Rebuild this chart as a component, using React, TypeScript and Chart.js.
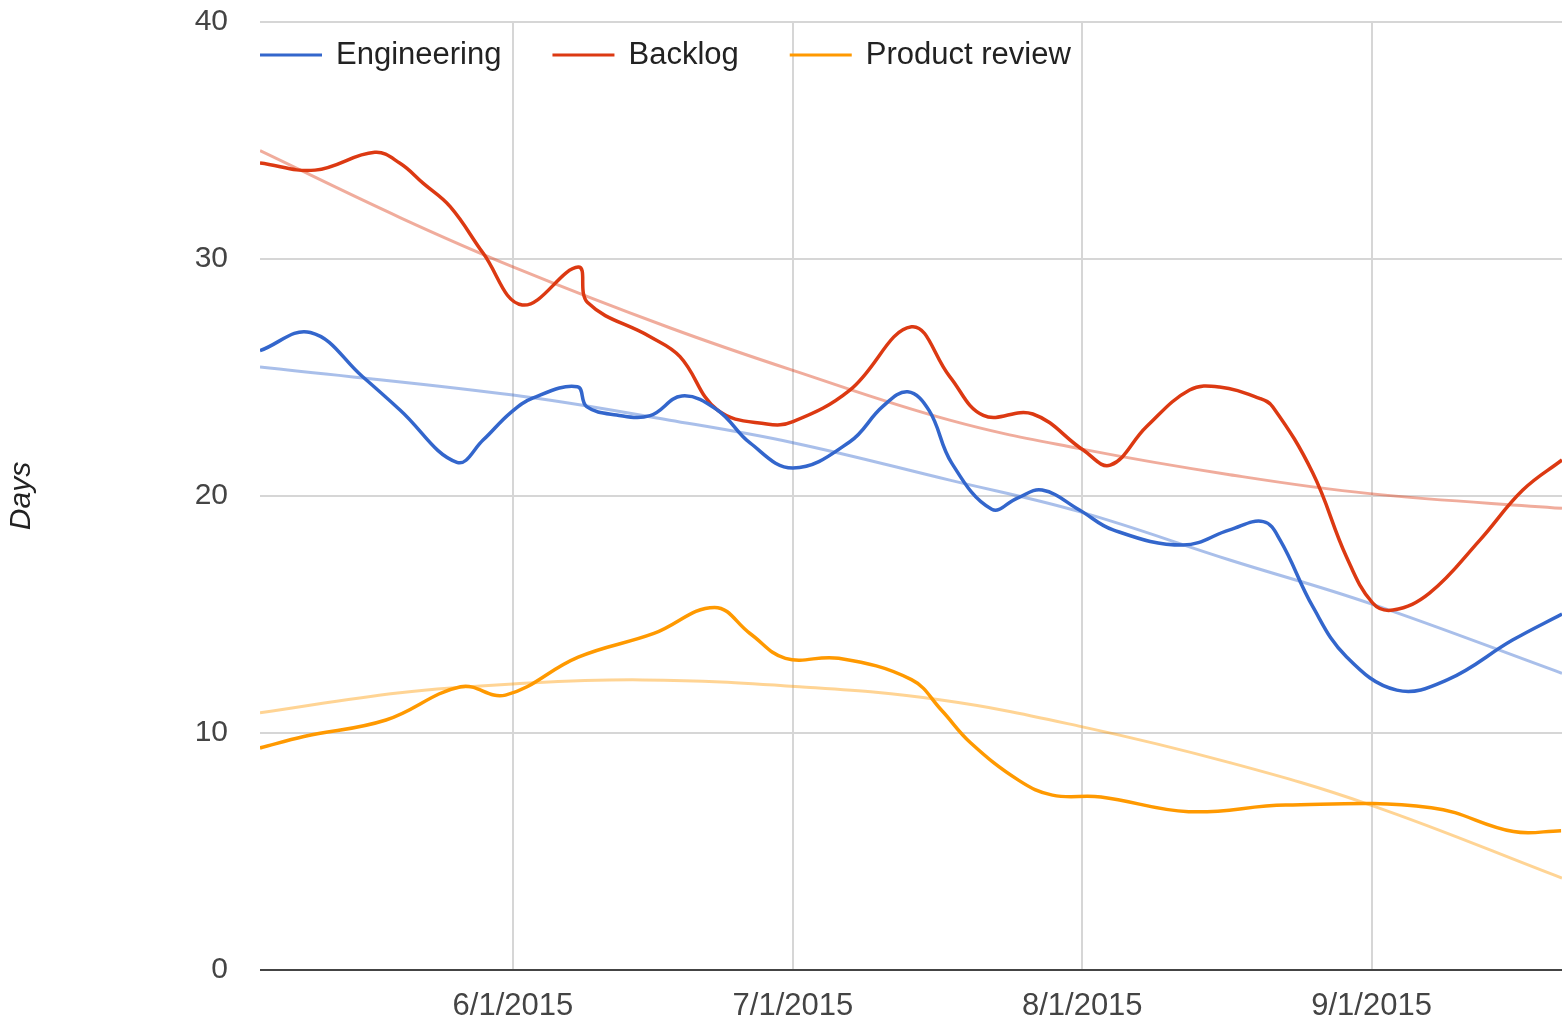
import React, { useEffect, useRef } from "react";
import { Chart, registerables } from "chart.js";

Chart.register(...registerables);

// x values are days counted from 6/1/2015 (negative = May 2015)
const X_MIN = -27.1;
const X_MAX = 112.4;

const tickDays = [0, 30, 61, 92];
const tickLabels = ["6/1/2015", "7/1/2015", "8/1/2015", "9/1/2015"];
const yTicks = [0, 10, 20, 30, 40];

const seriesNames = ["Engineering", "Backlog", "Product review"];
const seriesColors = ["#3366cc", "#dc3912", "#ff9900"];
const trendColors = ["rgba(51,102,204,0.42)", "rgba(220,57,18,0.42)", "rgba(255,153,0,0.42)"];

const engineeringDays = [-27.1, -21.7, -16.1, -12.1, -6.0, -3.2, -0.3, 2.1, 6.9, 7.9, 11.1, 14.7, 18.1, 21.9, 25.4, 30.0, 36.1, 39.6, 42.3, 44.6, 47.0, 51.3, 54.0, 56.7, 60.7, 64.3, 71.8, 76.8, 80.4, 82.2, 85.7, 89.3, 94.7, 100.1, 107.1, 112.4];
const engineeringValues = [26.13, 26.9, 25.03, 23.63, 21.42, 22.36, 23.5, 24.13, 24.61, 23.77, 23.42, 23.39, 24.22, 23.63, 22.24, 21.18, 22.29, 23.77, 24.4, 23.6, 21.4, 19.44, 19.9, 20.25, 19.41, 18.57, 17.93, 18.57, 18.92, 18.14, 15.33, 13.22, 11.81, 12.24, 13.92, 15.02];

const backlogDays = [-27.1, -21.2, -14.8, -12.1, -9.6, -6.7, -3.2, 1.0, 7.0, 8.0, 14.7, 17.9, 21.9, 27.2, 30.0, 36.1, 42.7, 46.8, 50.4, 55.7, 61.1, 64.0, 67.9, 72.5, 75.7, 80.0, 81.4, 85.7, 89.3, 92.1, 94.3, 98.2, 103.6, 108.2, 112.4];
const backlogValues = [34.05, 33.75, 34.5, 34.04, 33.19, 32.2, 30.25, 28.06, 29.66, 28.16, 26.72, 25.88, 23.63, 23.04, 23.14, 24.47, 27.14, 25.04, 23.4, 23.46, 21.94, 21.3, 22.93, 24.47, 24.6, 24.12, 23.77, 20.97, 17.44, 15.49, 15.19, 15.9, 18.14, 20.25, 21.52];

const reviewDays = [-27.1, -22.4, -13.6, -5.6, -0.8, 7.0, 15.1, 21.6, 25.4, 29.2, 34.9, 42.7, 45.9, 49.0, 54.2, 57.8, 63.0, 72.4, 82.8, 98.4, 107.2, 112.3];
const reviewValues = [9.37, 9.85, 10.55, 11.95, 11.6, 13.2, 14.2, 15.3, 14.2, 13.15, 13.15, 12.25, 10.97, 9.6, 8.0, 7.38, 7.3, 6.68, 6.96, 6.85, 5.84, 5.88];

const engineeringTrendDays = [-27.1, 0, 16.8, 30, 46.8, 60.7, 76.8, 91.8, 112.4];
const engineeringTrendValues = [25.44, 24.26, 23.2, 22.25, 20.67, 19.34, 17.3, 15.47, 12.52];

const backlogTrendDays = [-27.1, -12.1, 0, 16.8, 30, 46.8, 60.7, 76.8, 91.8, 112.4];
const backlogTrendValues = [34.57, 31.75, 29.67, 27.1, 25.3, 23.2, 22.0, 20.9, 20.1, 19.48];

const reviewTrendDays = [-27.1, -12.1, 0, 13.9, 30.7, 45.7, 60.9, 76.8, 91.9, 112.4];
const reviewTrendValues = [10.85, 11.7, 12.07, 12.24, 11.95, 11.4, 10.27, 8.75, 6.96, 3.88];

const FONT = '"Liberation Sans", Arial, Helvetica, sans-serif';

function pts(xs: number[], ys: number[]) {
  return xs.map((x, i) => ({ x, y: ys[i] }));
}

const legendPlugin = {
  id: "insideLegend",
  afterDraw(chart: any) {
    const ctx = chart.ctx as CanvasRenderingContext2D;
    const y = 55;
    let x = chart.chartArea.left;
    ctx.save();
    ctx.font = `31px ${FONT}`;
    ctx.textBaseline = "middle";
    ctx.textAlign = "left";
    seriesNames.forEach((name, i) => {
      ctx.strokeStyle = seriesColors[i];
      ctx.lineWidth = 3;
      ctx.beginPath();
      ctx.moveTo(x, y);
      ctx.lineTo(x + 62, y);
      ctx.stroke();
      ctx.fillStyle = "#222222";
      ctx.fillText(name, x + 76, y);
      x += 76 + ctx.measureText(name).width + 51;
    });
    ctx.restore();
  },
};

export default function App() {
  const canvasRef = useRef<HTMLCanvasElement | null>(null);

  useEffect(() => {
    document.body.style.margin = "0";
    const canvas = canvasRef.current;
    if (!canvas) return;

    const mainSeries = [
      pts(engineeringDays, engineeringValues),
      pts(backlogDays, backlogValues),
      pts(reviewDays, reviewValues),
    ];
    const trendSeries = [
      pts(engineeringTrendDays, engineeringTrendValues),
      pts(backlogTrendDays, backlogTrendValues),
      pts(reviewTrendDays, reviewTrendValues),
    ];

    const datasets: any[] = [];
    mainSeries.forEach((d, i) => {
      datasets.push({
        label: seriesNames[i],
        data: d,
        borderColor: seriesColors[i],
        borderWidth: 3.5,
        pointRadius: 0,
        fill: false,
        tension: 0.4,
        order: 0,
      });
    });
    trendSeries.forEach((d, i) => {
      datasets.push({
        label: seriesNames[i] + " trend",
        data: d,
        borderColor: trendColors[i],
        borderWidth: 3,
        pointRadius: 0,
        fill: false,
        tension: 0.4,
        order: 1,
      });
    });

    const chart = new Chart(canvas, {
      type: "line",
      data: { datasets },
      plugins: [legendPlugin],
      options: {
        animation: false,
        responsive: false,
        maintainAspectRatio: false,
        devicePixelRatio: 1,
        layout: { padding: { top: 22, right: 0, bottom: 0, left: 0 } },
        plugins: { legend: { display: false }, tooltip: { enabled: false } },
        scales: {
          x: {
            type: "linear",
            min: X_MIN,
            max: X_MAX,
            afterBuildTicks: (s: any) => {
              s.ticks = tickDays.map((v) => ({ value: v }));
            },
            afterFit: (s: any) => {
              s.height = 51;
              s.paddingLeft = 0;
              s.paddingRight = 0;
            },
            ticks: {
              autoSkip: false,
              maxRotation: 0,
              padding: 18,
              color: "#444444",
              font: { family: FONT, size: 31 },
              callback: (_v: any, i: number) => tickLabels[i],
            },
            grid: { color: "#d6d6d6", lineWidth: 2, drawTicks: false },
            border: { display: false },
          },
          y: {
            type: "linear",
            min: 0,
            max: 40,
            afterBuildTicks: (s: any) => {
              s.ticks = yTicks.map((v) => ({ value: v }));
            },
            afterFit: (s: any) => {
              s.width = 260;
              s.paddingTop = 0;
              s.paddingBottom = 0;
            },
            ticks: {
              padding: 32,
              color: "#444444",
              font: { family: FONT, size: 30 },
            },
            grid: {
              color: (c: any) => (c.tick && c.tick.value === 0 ? "#444444" : "#d6d6d6"),
              lineWidth: 2,
              drawTicks: false,
            },
            border: { display: false },
            title: {
              display: true,
              text: "Days",
              color: "#222222",
              font: { family: FONT, size: 30, style: "italic" },
              padding: { top: 4, bottom: 0 },
            },
          },
        },
      },
    } as any);

    return () => {
      chart.destroy();
    };
  }, []);

  return (
    <div style={{ width: 1562, height: 1021, position: "relative" }}>
      <canvas ref={canvasRef} width={1562} height={1021} style={{ display: "block" }} />
    </div>
  );
}
